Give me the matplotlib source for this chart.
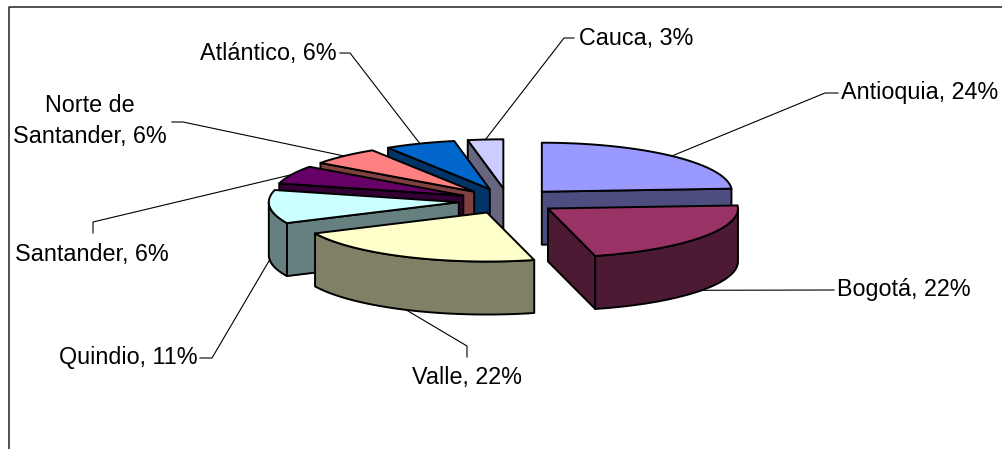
import numpy as np
import matplotlib.pyplot as plt
from matplotlib.colors import to_rgb
from matplotlib.patches import Polygon

plt.rcParams['font.family'] = ['Liberation Sans', 'DejaVu Sans']

# share of records per department (%)
regions = ['Antioquia', 'Bogotá', 'Valle', 'Quindio', 'Santander',
           'Norte de\nSantander', 'Atlántico', 'Cauca']
shares = [24, 22, 22, 11, 6, 6, 6, 3]
colors = ['#9999FF', '#993366', '#FFFFCC', '#CCFFFF', '#660066',
          '#FF8080', '#0066CC', '#CCCCFF']

# label text position (x, baseline y, alignment) and leader bend points
label_pos = [(841, 99, 'left'), (837, 296, 'left'), (467, 384, 'center'),
             (198, 364, 'right'), (92, 261, 'center'), (90, 112, 'center'),
             (337, 60, 'right'), (579, 45, 'left')]
leaders = [[(825, 93), (838, 93)], [(834, 290)], [(467, 346), (467, 357)],
           [(212, 358), (200, 358)], [(93, 222), (93, 233)],
           [(183, 122), (172, 122)], [(350, 53), (340, 53)],
           [(564, 38), (574, 38)]]

# pie geometry in pixels
cx, cy = 508, 201
rx, ry = 190, 49
depth = 53
explode = 0.26

fig = plt.figure(figsize=(10.03, 4.49), dpi=100)
ax = fig.add_axes([0, 0, 1, 1])
ax.set_xlim(0, 1003)
ax.set_ylim(449, 0)
ax.axis('off')

# chart area border (only top and left visible)
ax.plot([9, 9, 1003], [449, 7, 7], color='#202020', lw=1.1, zorder=0)

total = float(sum(shares))
ends = np.cumsum(shares) / total * 360.0
starts = ends - np.array(shares) / total * 360.0


def rim(ox, oy, th, z=0.0):
    t = np.radians(th)
    return ox + rx * np.sin(t), oy - ry * np.cos(t) + z


slices = []
for i in range(len(shares)):
    a, b = starts[i], ends[i]
    m = (a + b) / 2
    ox = cx + explode * rx * np.sin(np.radians(m))
    oy = cy - explode * ry * np.cos(np.radians(m))
    slices.append((i, a, b, m, ox, oy))

# paint from the back of the pie to the front
order = sorted(slices, key=lambda s: -abs(s[3] - 180))
for i, a, b, m, ox, oy in order:
    top = colors[i]
    side = tuple(c * 0.5 for c in to_rgb(top))
    kw = dict(edgecolor='black', lw=1.4, joinstyle='round')

    walls = []
    if np.sin(np.radians(a)) < -1e-9:
        walls.append(a)
    if np.sin(np.radians(b)) > 1e-9:
        walls.append(b)
    for th in walls:
        x1, y1 = rim(ox, oy, th)
        quad = [(ox, oy), (x1, y1), (x1, y1 + depth), (ox, oy + depth)]
        ax.add_patch(Polygon(quad, closed=True, facecolor=side, **kw))

    t0, t1 = max(a, 90), min(b, 270)
    if t1 > t0:
        th = np.linspace(t0, t1, 80)
        xt, yt = rim(ox, oy, th)
        pts = list(zip(xt, yt)) + list(zip(xt[::-1], yt[::-1] + depth))
        ax.add_patch(Polygon(pts, closed=True, facecolor=side, **kw))

    th = np.linspace(a, b, 100)
    xt, yt = rim(ox, oy, th)
    pts = [(ox, oy)] + list(zip(xt, yt))
    ax.add_patch(Polygon(pts, closed=True, facecolor=top, **kw))

# labels with leader lines
for i, a, b, m, ox, oy in slices:
    front = np.cos(np.radians(m)) < 0
    px, py = rim(ox, oy, m, depth if front else 0)
    path = [(px, py)] + leaders[i]
    ax.plot([p[0] for p in path], [p[1] for p in path],
            color='black', lw=0.8, zorder=5)

    tx, ty, ha = label_pos[i]
    lines = (regions[i] + ', %d%%' % shares[i]).split('\n')
    for k, line in enumerate(lines):
        ax.text(tx, ty + k * 31, line, ha=ha, va='baseline',
                fontsize=16.8, color='black', zorder=6)

fig.savefig('out.png', dpi=100)
